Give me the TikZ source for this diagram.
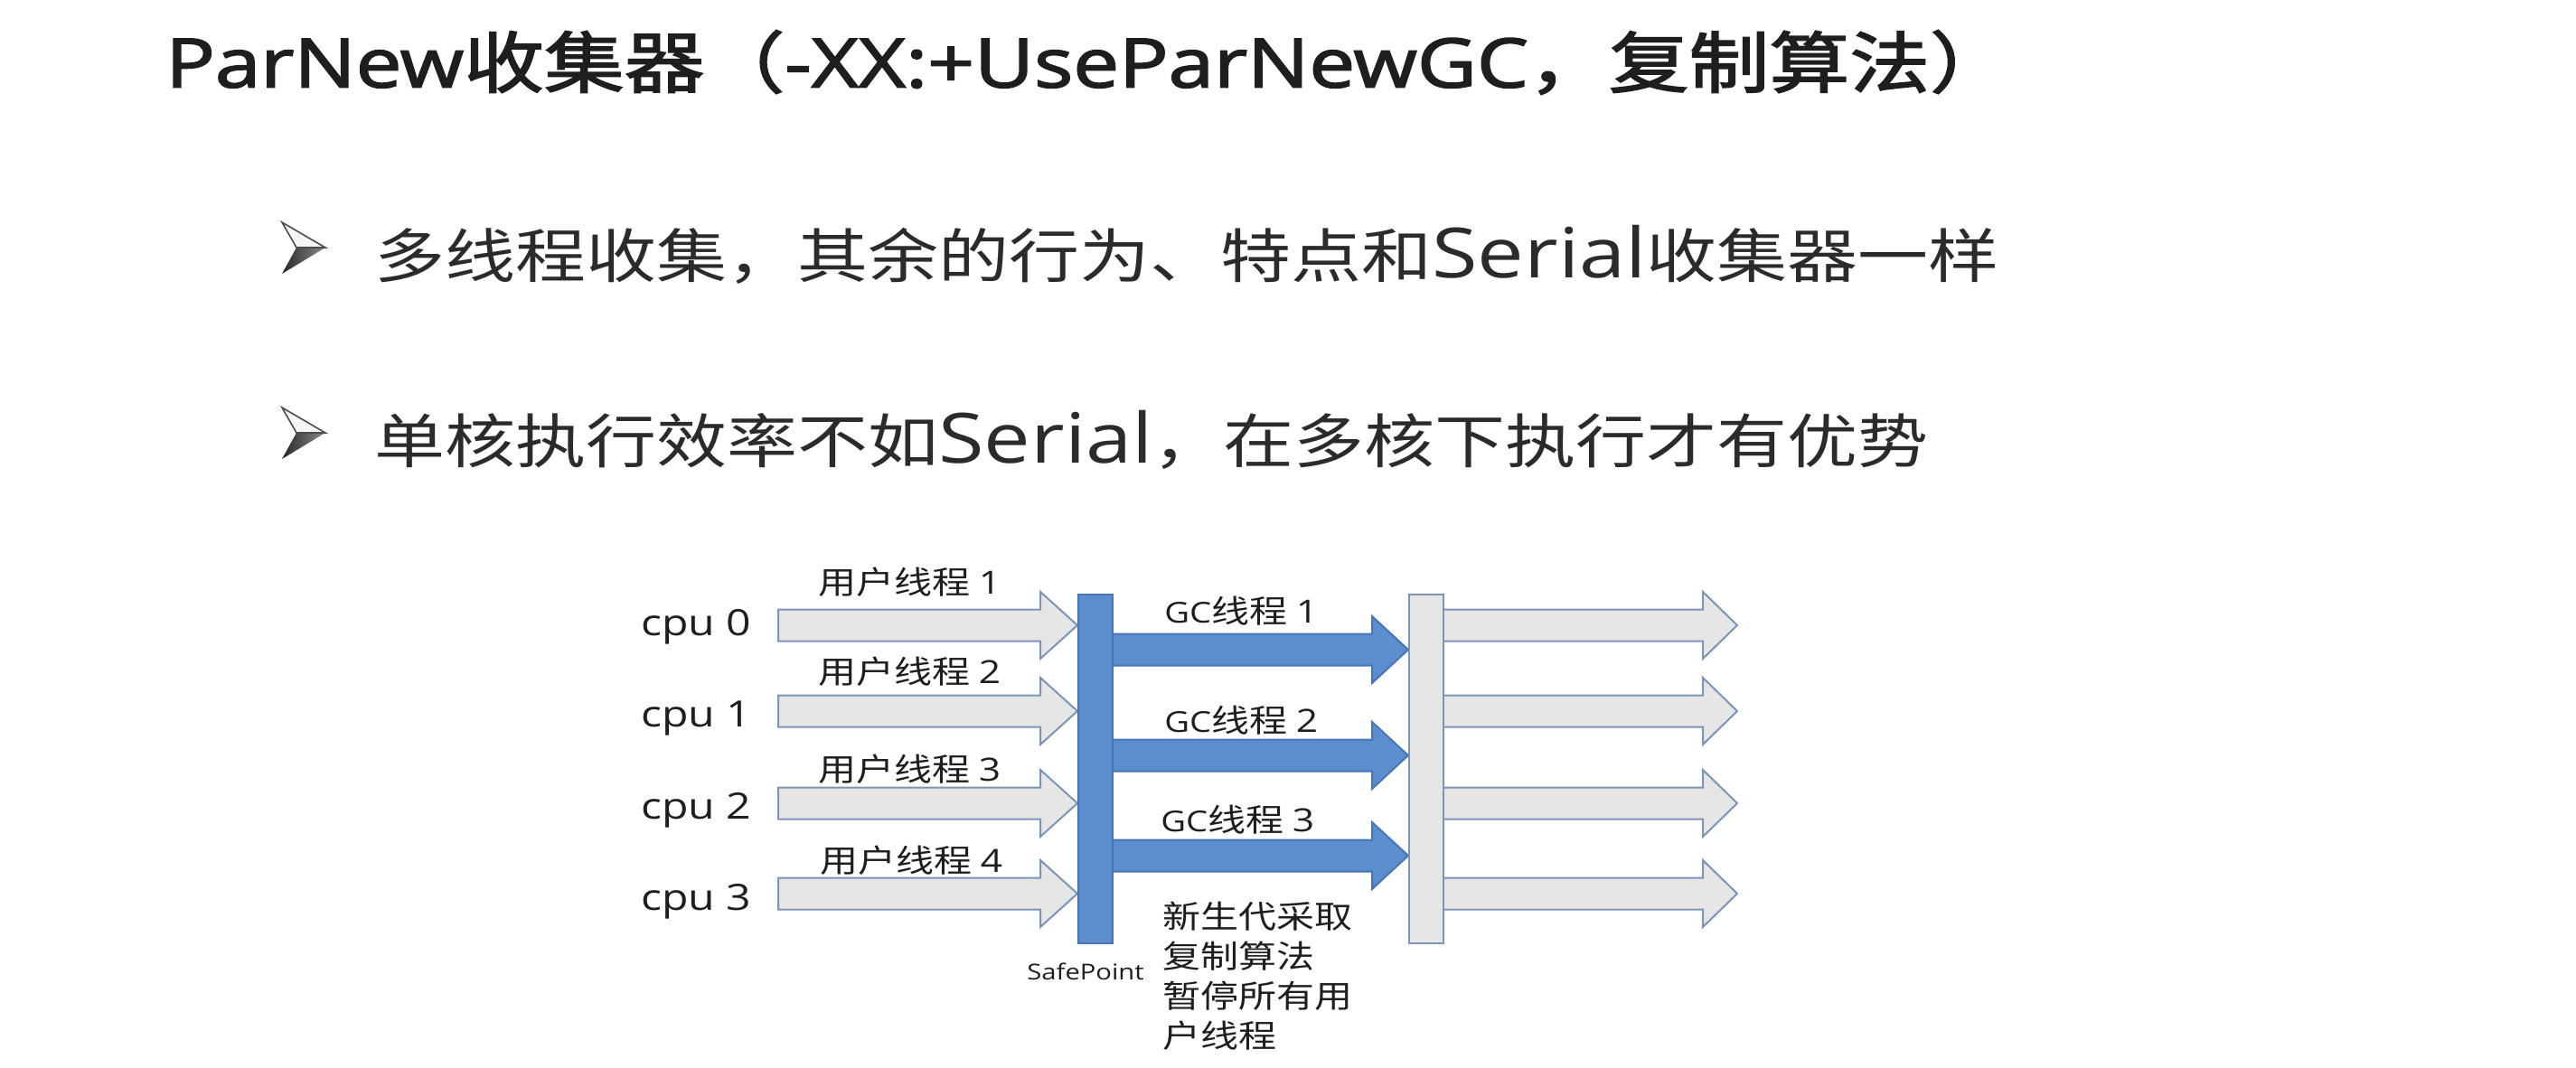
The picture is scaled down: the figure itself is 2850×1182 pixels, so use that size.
\documentclass[tikz,border=0pt]{standalone}
\usepackage{fontspec}
\setmainfont{Open Sans}[Scale=1.18]
\newfontfamily\cjk{Noto Sans CJK SC}
\newfontfamily\cjkb{Noto Sans CJK SC}[FakeBold=2]
\newfontfamily\latb{Open Sans}[Scale=1.18,FakeBold=2]
\newcommand\lat{\rmfamily}
\newcommand\dl{\fontsize{13.5}{16}\selectfont\rmfamily}
\newcommand\dg{\fontsize{15}{18}\selectfont\rmfamily}
\newcommand\sx[1]{\scalebox{1.2}[1]{#1}}
\definecolor{bluef}{HTML}{5B8DCF}
\definecolor{blued}{HTML}{4676B4}
\definecolor{grayf}{HTML}{E6E6E6}
\definecolor{grayd}{HTML}{7C95B6}
\definecolor{txt}{HTML}{1E1E1E}
\definecolor{txtb}{HTML}{2B2B2B}
\newcommand\blockarrow[5]{\draw[#1] (#2,#5-17.5) -- (#3,#5-17.5) -- (#3,#5-37) -- (#4,#5) -- (#3,#5+37) -- (#3,#5+17.5) -- (#2,#5+17.5) -- cycle;}
\newcommand\bulletmark[2]{%
  \begin{scope}[shift={(#1,#2)}]
    \shade[left color=black!85, right color=black!45] (-8,0) -- (24,0) -- (-24,29) -- cycle;
    \draw[black!70, line width=0.8pt, line join=miter, fill=black!4] (-24,-28) -- (24,0) -- (-8,0) -- cycle;
  \end{scope}}
\begin{document}
\begin{tikzpicture}[x=0.5pt,y=-0.5pt,
  garrow/.style={fill=grayf, draw=grayd, line width=1pt, line join=miter},
  barrow/.style={fill=bluef, draw=blued, line width=1pt, line join=miter},
  gbar/.style={fill=grayf, draw=grayd, line width=1pt, inner sep=0pt, minimum width=19pt, minimum height=193pt, anchor=north west},
  bbar/.style={fill=bluef, draw=blued, line width=1pt, inner sep=0pt, minimum width=19pt, minimum height=193pt, anchor=north west},
  lbl/.style={inner sep=0pt, anchor=west, text=txt},
  small/.style={font=\fontsize{17.5}{22}\selectfont\cjk},
]
\useasboundingbox[fill=white] (0,0) rectangle (2850,1182);

% title
\node[lbl, text=txt] (title) at (183,69)
  {\sx{\fontsize{32}{40}\selectfont\latb ParNew{\fontsize{37}{40}\selectfont\cjkb 收集器（}-XX:+UseParNewGC{\fontsize{37}{40}\selectfont\cjkb ，复制算法）}}};

% bullets
\bulletmark{336}{274}
\node[lbl, text=txtb] (b1) at (414,282)
  {\sx{\fontsize{32.5}{38}\selectfont\cjk 多线程收集，其余的行为、特点和\lat Serial\cjk 收集器一样}};
\bulletmark{336}{479}
\node[lbl, text=txtb] (b2) at (414,487)
  {\sx{\fontsize{32.5}{38}\selectfont\cjk 单核执行效率不如\lat Serial\cjk ，在多核下执行才有优势}};

% arrows
\foreach \y in {692,787,889,989} {\blockarrow{garrow}{861}{1151}{1192}{\y}}
\foreach \y in {719,836,947} {\blockarrow{barrow}{1225}{1518}{1558}{\y}}
\foreach \y in {692,787,889,989} {\blockarrow{garrow}{1590}{1884}{1922}{\y}}

% bars
\node[bbar] (sp) at (1192,657) {};
\node[gbar] (eb) at (1558,657) {};

% cpu labels
\node[lbl, font=\fontsize{17}{20}\selectfont] (cpu0) at (709,694) {\sx{cpu 0}};
\node[lbl, font=\fontsize{17}{20}\selectfont] (cpu1) at (709,795) {\sx{cpu 1}};
\node[lbl, font=\fontsize{17}{20}\selectfont] (cpu2) at (709,897) {\sx{cpu 2}};
\node[lbl, font=\fontsize{17}{20}\selectfont] (cpu3) at (709,998) {\sx{cpu 3}};

% user thread labels
\node[lbl, small] (u1) at (905,644) {\sx{用户线程~{\dg 1}}};
\node[lbl, small] (u2) at (905,743) {\sx{用户线程~{\dg 2}}};
\node[lbl, small] (u3) at (905,851) {\sx{用户线程~{\dg 3}}};
\node[lbl, small] (u4) at (907,952) {\sx{用户线程~{\dg 4}}};

% GC labels
\node[lbl, small] (g1) at (1288,676) {\sx{{\dl GC}线程~{\dg 1}}};
\node[lbl, small] (g2) at (1288,797) {\sx{{\dl GC}线程~{\dg 2}}};
\node[lbl, small] (g3) at (1284,907) {\sx{{\dl GC}线程~{\dg 3}}};

% safepoint label
\node[inner sep=0pt, text=txt, font=\fontsize{10.3}{12}\selectfont] (spl) at (1201,1075) {\sx{SafePoint}};

% note
\node[inner sep=0pt, anchor=north west, text=txt, align=left, font=\fontsize{17.5}{22}\selectfont\cjk] (note) at (1286,998)
  {\sx{新生代采取}\\ \sx{复制算法}\\ \sx{暂停所有用}\\ \sx{户线程}};
\end{tikzpicture}
\end{document}
